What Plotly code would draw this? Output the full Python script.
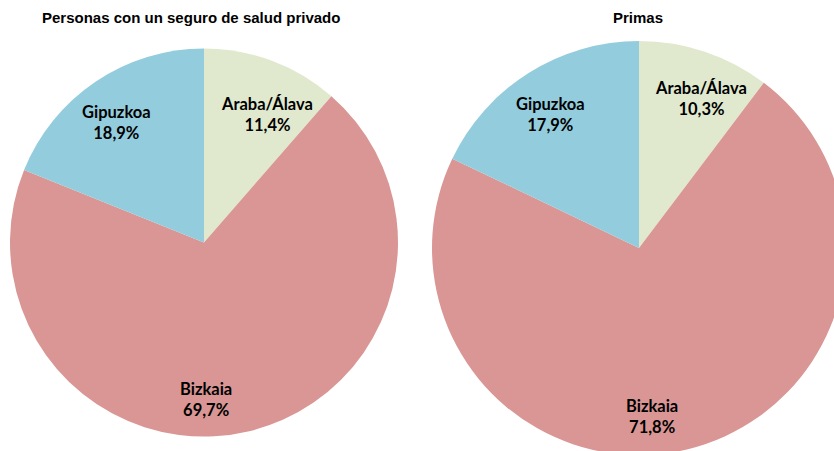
import plotly.graph_objects as go

# ---- data ----
regions = ["Araba/Álava", "Bizkaia", "Gipuzkoa"]
personas_pct = [11.4, 69.7, 18.9]
primas_pct = [10.3, 71.8, 17.9]
titles = ["Personas con un seguro de salud privado", "Primas"]

# ---- style ----
colors = ["#E0E9CD", "#D99694", "#93CDDD"]
W, H = 850, 460

def px_dom(cx, cy, r):
    return dict(x=[(cx - r) / W, (cx + r) / W],
                y=[(H - (cy + r)) / H, (H - (cy - r)) / H])

pies = [
    dict(values=personas_pct, dom=px_dom(204, 242.5, 194),
         label_pos=[(267, 114), (206, 399), (117, 122)], title_pos=(190.5, 17)),
    dict(values=primas_pct, dom=px_dom(639, 248, 207),
         label_pos=[(701, 99), (652, 416), (550, 114)], title_pos=(638, 17)),
]

def fmt(v):
    return f"{v:.1f}".replace(".", ",") + "%"

fig = go.Figure()
annotations = []
for p, title in zip(pies, titles):
    fig.add_trace(go.Pie(
        labels=regions, values=p["values"], sort=False,
        direction="clockwise", rotation=0,
        marker=dict(colors=colors, line=dict(width=0)),
        textinfo="none", hoverinfo="label+percent",
        domain=p["dom"], showlegend=False,
    ))
    for name, v, (lx, ly) in zip(regions, p["values"], p["label_pos"]):
        annotations.append(dict(
            x=lx / W, y=1 - ly / H, xref="paper", yref="paper",
            xanchor="center", yanchor="middle", showarrow=False,
            text=f"<b>{name}</b><br><b>{fmt(v)}</b>",
            font=dict(family="Lato, Carlito, sans-serif", size=16.5, color="#000000"),
        ))
    tx, ty = p["title_pos"]
    annotations.append(dict(
        x=tx / W, y=1 - ty / H, xref="paper", yref="paper",
        xanchor="center", yanchor="middle", showarrow=False,
        text=f"<b>{title}</b>",
        font=dict(family="Liberation Sans, Arial, sans-serif", size=15, color="#000000"),
    ))

fig.update_layout(
    width=W, height=H, autosize=False,
    margin=dict(l=0, r=0, t=0, b=0),
    paper_bgcolor="#FFFFFF", plot_bgcolor="#FFFFFF",
    annotations=annotations,
)

fig.write_html("out.html", config={"displayModeBar": False},
               post_script="document.body.style.margin='0';document.body.style.overflow='hidden';")
